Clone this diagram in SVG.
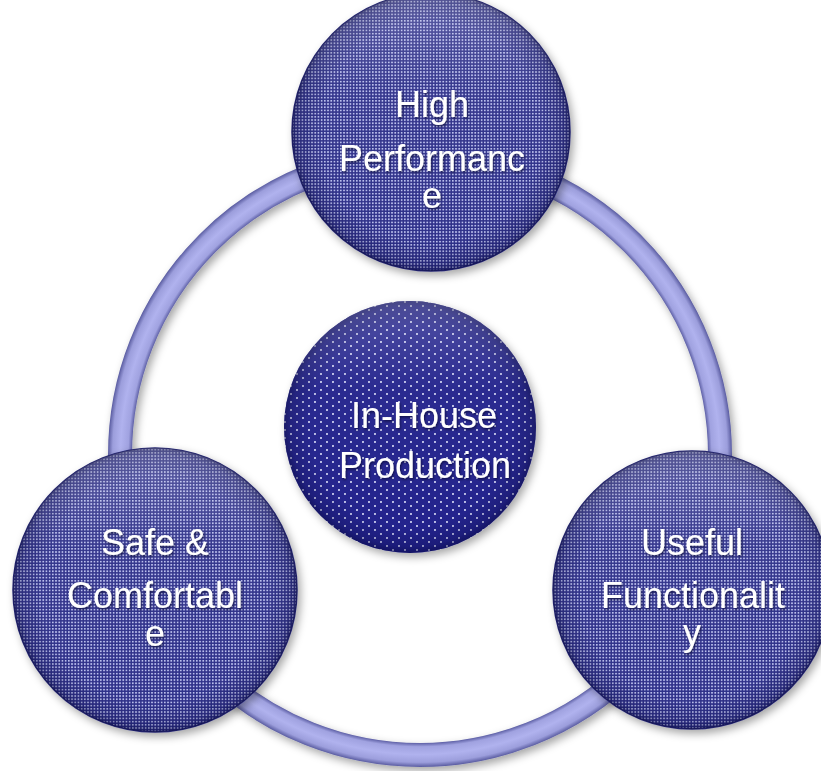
<svg xmlns="http://www.w3.org/2000/svg" width="821" height="771" viewBox="0 0 821 771">
<style>
.lbl{font-family:"Liberation Sans",Arial,sans-serif;font-size:36px;fill:#ffffff;text-anchor:middle;filter:url(#tsh)}
.outer{fill:url(#grid);stroke:#22246e;stroke-width:1.5}
.shade{fill:url(#edge)}
</style>
<defs>
<pattern id="grid" width="3.2" height="3.2" patternUnits="userSpaceOnUse">
<rect width="3.2" height="3.2" fill="#2c2e88"/>
<rect x="0.8" y="0.8" width="1.7" height="1.7" fill="#b8bcec"/>
</pattern>
<pattern id="dots2" width="12" height="8" patternUnits="userSpaceOnUse">
<rect width="12" height="8" fill="#20208c"/>
<circle cx="3" cy="2" r="1.05" fill="#dcdef8"/>
<circle cx="9" cy="6" r="1.05" fill="#dcdef8"/>
</pattern>
<radialGradient id="edge" cx="0.5" cy="0.5" r="0.5">
<stop offset="0.8" stop-color="#000030" stop-opacity="0"/>
<stop offset="0.95" stop-color="#000030" stop-opacity="0.2"/>
<stop offset="1" stop-color="#000030" stop-opacity="0.45"/>
</radialGradient>
<linearGradient id="gloss" x1="0" y1="0" x2="0" y2="1">
<stop offset="0" stop-color="#ffffff" stop-opacity="0.22"/>
<stop offset="0.35" stop-color="#ffffff" stop-opacity="0.04"/>
<stop offset="1" stop-color="#ffffff" stop-opacity="0"/>
</linearGradient>
<radialGradient id="tube" gradientUnits="userSpaceOnUse" cx="420" cy="455" r="312">
<stop offset="0.923" stop-color="#5e60a6"/>
<stop offset="0.935" stop-color="#a0a2e0"/>
<stop offset="0.96" stop-color="#b0b2ee"/>
<stop offset="0.985" stop-color="#9c9edc"/>
<stop offset="1" stop-color="#595ba0"/>
</radialGradient>
<filter id="sh" x="-20%" y="-20%" width="140%" height="140%">
<feDropShadow dx="3" dy="4" stdDeviation="4" flood-color="#000000" flood-opacity="0.35"/>
</filter>
<filter id="tsh" x="-10%" y="-30%" width="120%" height="160%">
<feDropShadow dx="1" dy="1.5" stdDeviation="1" flood-color="#000020" flood-opacity="0.6"/>
</filter>
</defs>
<rect width="821" height="771" fill="#ffffff"/>
<g id="connectors">
<circle cx="420" cy="455" r="300" fill="none" stroke="url(#tube)" stroke-width="24" filter="url(#sh)"/>
</g>
<g id="node-top">
<circle cx="431" cy="132" r="139" class="outer" filter="url(#sh)"/>
<circle cx="431" cy="132" r="139" class="shade"/>
<circle cx="431" cy="132" r="139" fill="url(#gloss)"/>
<text class="lbl" x="432" y="117">High</text>
<text class="lbl" x="432" y="171">Performanc</text>
<text class="lbl" x="432" y="208">e</text>
</g>
<g id="node-center">
<circle cx="410" cy="427" r="126" fill="url(#dots2)" filter="url(#sh)"/>
<circle cx="410" cy="427" r="126" class="shade"/>
<circle cx="410" cy="427" r="126" fill="url(#gloss)"/>
<text class="lbl" x="424" y="428">In-House</text>
<text class="lbl" x="425" y="478">Production</text>
</g>
<g id="node-left">
<circle cx="155" cy="590" r="142" class="outer" filter="url(#sh)"/>
<circle cx="155" cy="590" r="142" class="shade"/>
<circle cx="155" cy="590" r="142" fill="url(#gloss)"/>
<text class="lbl" x="155" y="555">Safe &amp;</text>
<text class="lbl" x="155" y="608">Comfortabl</text>
<text class="lbl" x="155" y="646">e</text>
</g>
<g id="node-right">
<circle cx="692" cy="590" r="139" class="outer" filter="url(#sh)"/>
<circle cx="692" cy="590" r="139" class="shade"/>
<circle cx="692" cy="590" r="139" fill="url(#gloss)"/>
<text class="lbl" x="692" y="555">Useful</text>
<text class="lbl" x="693" y="608">Functionalit</text>
<text class="lbl" x="692" y="645">y</text>
</g>
</svg>
